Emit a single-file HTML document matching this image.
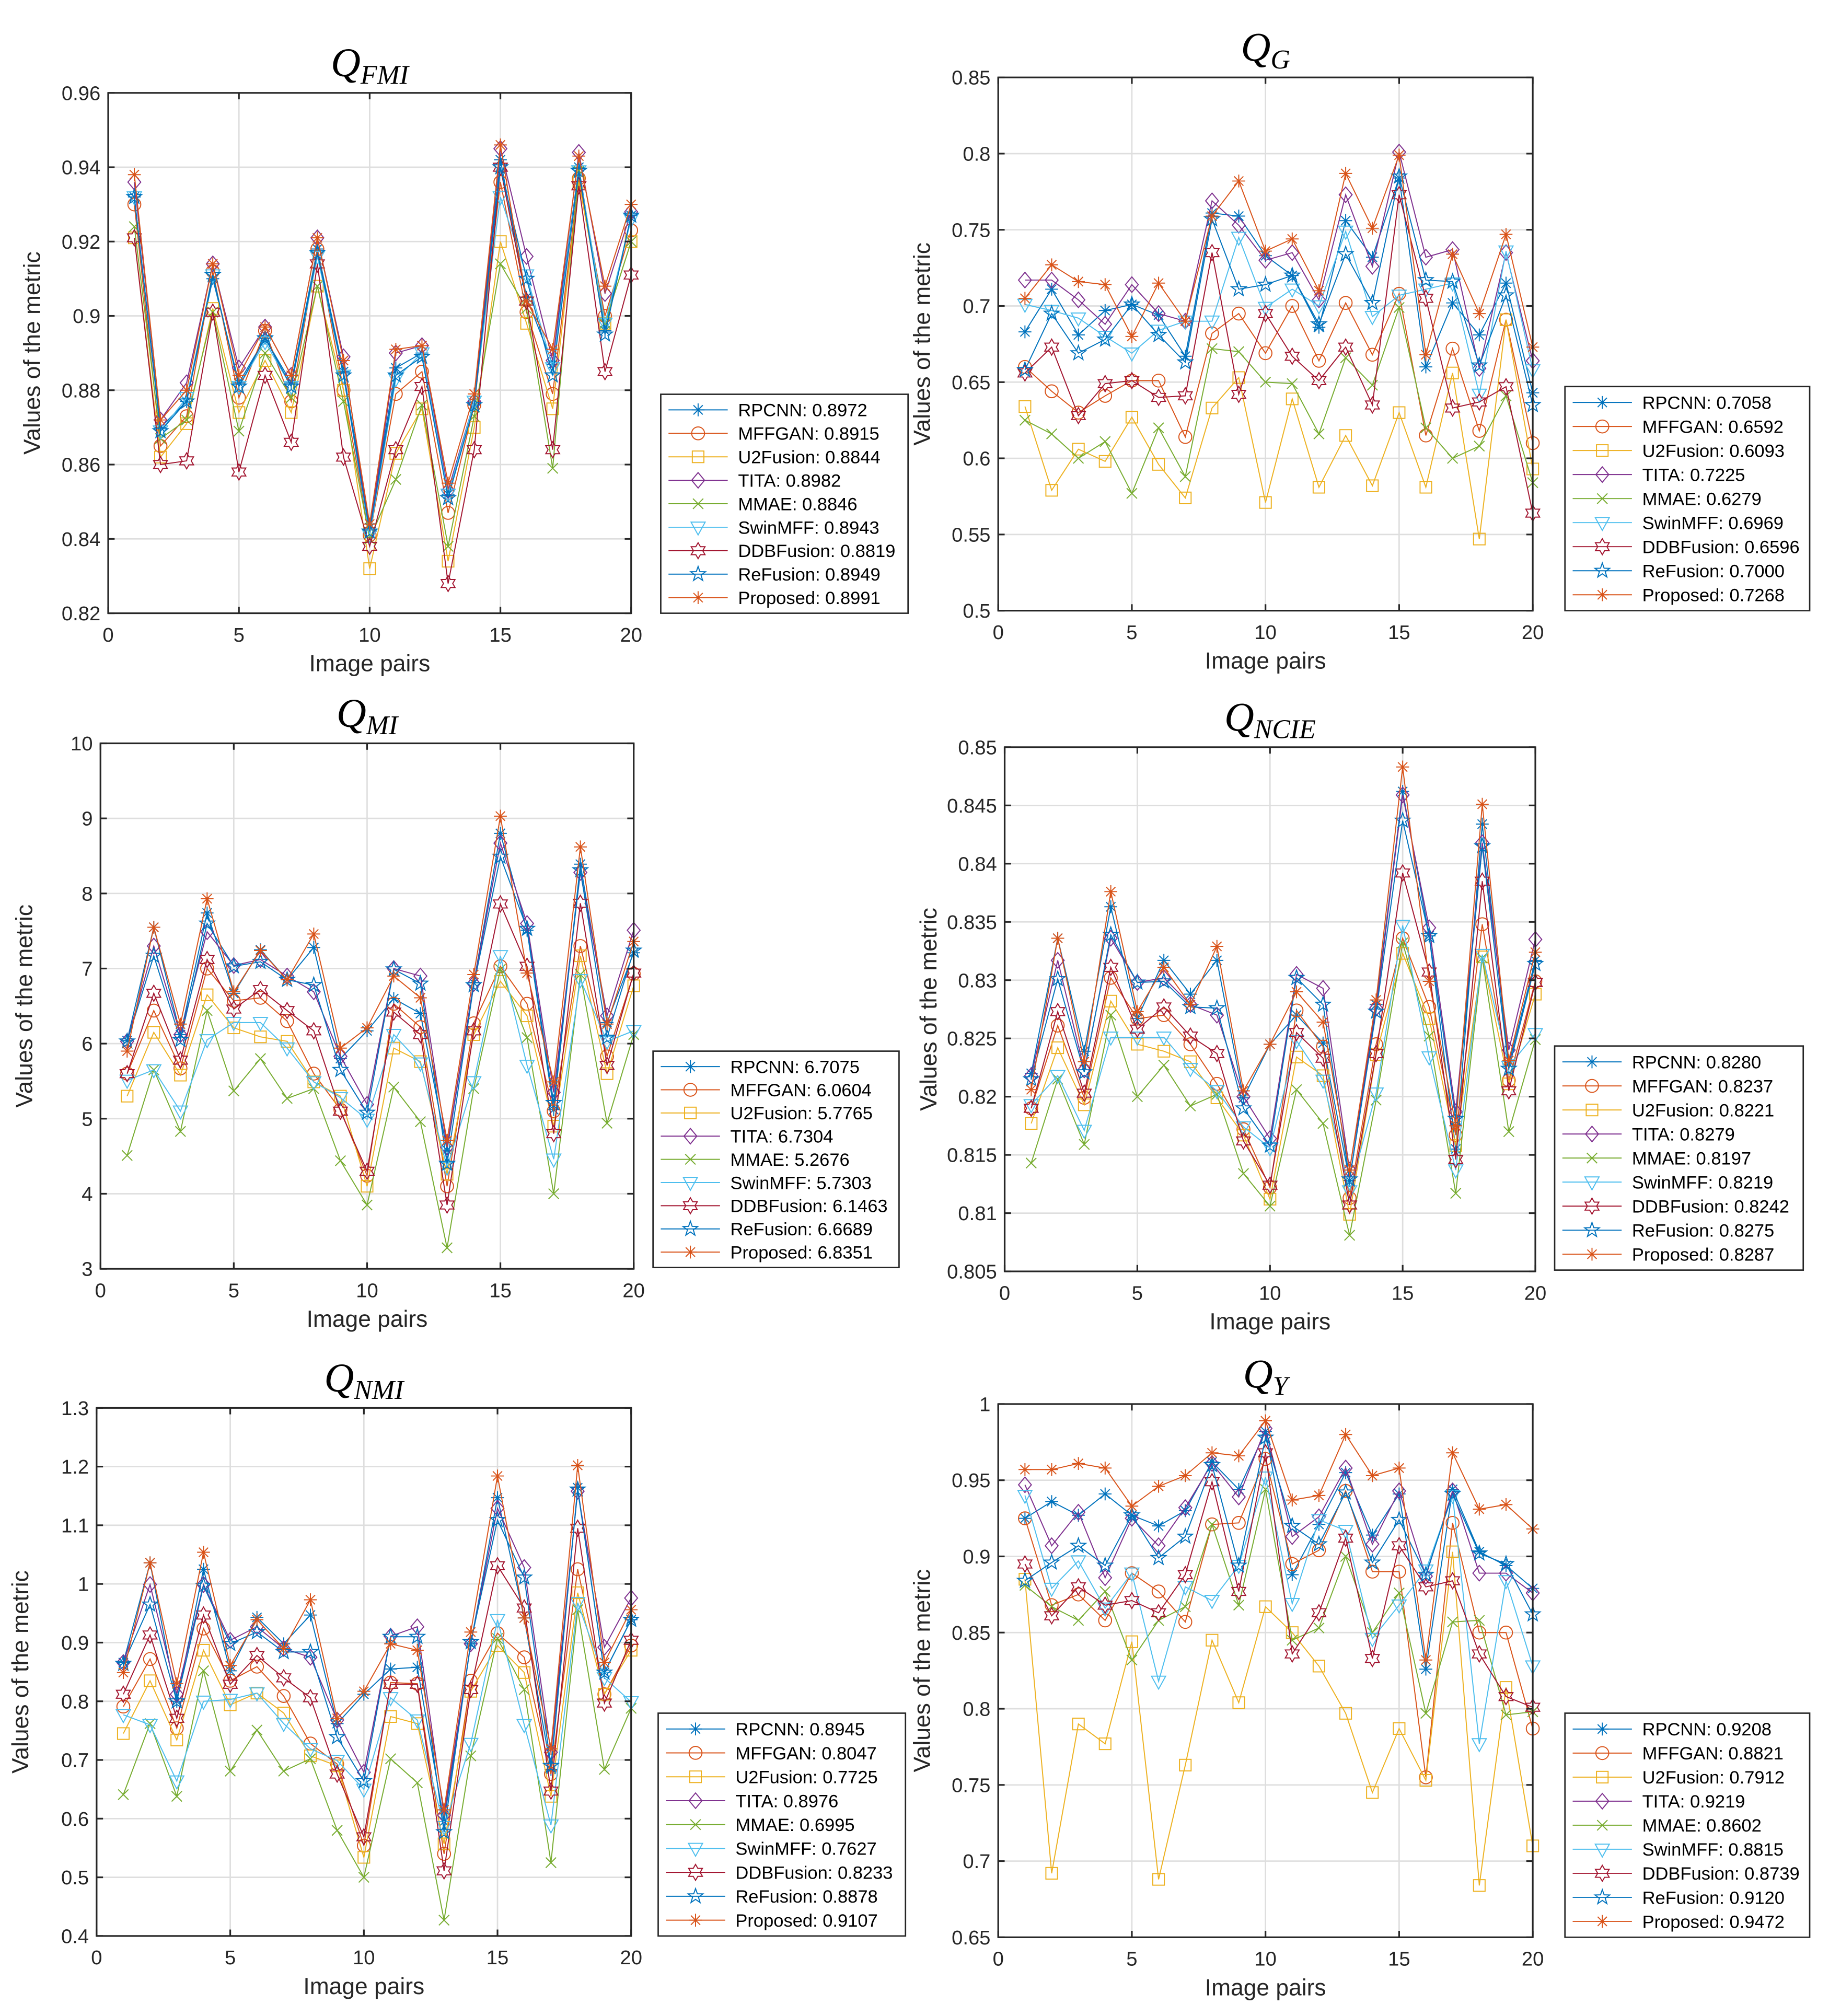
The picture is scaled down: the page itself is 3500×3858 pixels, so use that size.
<!DOCTYPE html>
<html><head><meta charset="utf-8"><style>
html,body{margin:0;padding:0;background:#fff;}
svg{display:block;}
</style></head><body>
<svg id="fig" xmlns="http://www.w3.org/2000/svg" width="3500" height="3858" viewBox="0 0 1420 1565" font-family="Liberation Sans, sans-serif"></svg>
<script>
// ---------- data ----------
const methods = ["RPCNN","MFFGAN","U2Fusion","TITA","MMAE","SwinMFF","DDBFusion","ReFusion","Proposed"];
const pairs = [1,2,3,4,5,6,7,8,9,10,11,12,13,14,15,16,17,18,19,20];

const fmi_RPCNN    = [0.932,0.870,0.877,0.910,0.882,0.894,0.882,0.918,0.885,0.843,0.886,0.890,0.852,0.876,0.942,0.905,0.887,0.940,0.896,0.927];
const fmi_MFFGAN   = [0.930,0.865,0.873,0.912,0.878,0.896,0.877,0.918,0.880,0.841,0.879,0.885,0.847,0.876,0.936,0.901,0.879,0.937,0.900,0.923];
const fmi_U2Fusion = [0.921,0.862,0.871,0.902,0.874,0.888,0.874,0.908,0.880,0.832,0.863,0.875,0.834,0.870,0.920,0.898,0.875,0.936,0.898,0.920];
const fmi_TITA     = [0.936,0.872,0.882,0.914,0.886,0.897,0.884,0.921,0.889,0.842,0.890,0.892,0.853,0.877,0.945,0.916,0.888,0.944,0.906,0.928];
const fmi_MMAE     = [0.924,0.867,0.872,0.901,0.869,0.890,0.878,0.908,0.877,0.840,0.856,0.876,0.838,0.873,0.914,0.902,0.859,0.939,0.898,0.920];
const fmi_SwinMFF  = [0.932,0.869,0.878,0.911,0.881,0.893,0.881,0.916,0.884,0.841,0.883,0.890,0.852,0.877,0.932,0.911,0.886,0.939,0.898,0.926];
const fmi_DDBFusion= [0.921,0.860,0.861,0.901,0.858,0.884,0.866,0.914,0.862,0.838,0.864,0.881,0.828,0.864,0.940,0.904,0.864,0.935,0.885,0.911];
const fmi_ReFusion = [0.932,0.869,0.877,0.911,0.881,0.894,0.881,0.917,0.884,0.842,0.884,0.889,0.851,0.876,0.940,0.910,0.884,0.939,0.895,0.927];
const fmi_Proposed = [0.938,0.872,0.880,0.914,0.884,0.897,0.884,0.921,0.888,0.844,0.891,0.892,0.855,0.879,0.946,0.904,0.891,0.943,0.908,0.930];
const fmi_legend = ["0.8972","0.8915","0.8844","0.8982","0.8846","0.8943","0.8819","0.8949","0.8991"];

const g_RPCNN    = [0.683,0.711,0.681,0.697,0.701,0.694,0.667,0.761,0.759,0.733,0.720,0.686,0.756,0.732,0.784,0.660,0.702,0.681,0.715,0.643];
const g_MFFGAN   = [0.660,0.644,0.630,0.641,0.651,0.651,0.614,0.682,0.695,0.669,0.700,0.664,0.702,0.668,0.708,0.615,0.672,0.618,0.691,0.610];
const g_U2Fusion = [0.634,0.579,0.606,0.598,0.627,0.596,0.574,0.633,0.653,0.571,0.639,0.581,0.615,0.582,0.630,0.581,0.656,0.547,0.691,0.593];
const g_TITA     = [0.717,0.717,0.704,0.688,0.714,0.695,0.690,0.769,0.753,0.730,0.735,0.704,0.773,0.726,0.801,0.732,0.737,0.659,0.735,0.664];
const g_MMAE     = [0.625,0.616,0.600,0.611,0.577,0.620,0.588,0.672,0.670,0.650,0.649,0.616,0.666,0.648,0.699,0.620,0.600,0.608,0.641,0.584];
const g_SwinMFF  = [0.701,0.697,0.692,0.680,0.669,0.684,0.690,0.690,0.745,0.699,0.711,0.700,0.749,0.693,0.707,0.711,0.715,0.642,0.736,0.658];
const g_DDBFusion= [0.656,0.673,0.628,0.649,0.651,0.640,0.641,0.735,0.642,0.695,0.667,0.651,0.673,0.635,0.773,0.705,0.633,0.637,0.647,0.564];
const g_ReFusion = [0.658,0.695,0.669,0.678,0.701,0.681,0.663,0.757,0.711,0.714,0.720,0.688,0.734,0.702,0.785,0.717,0.716,0.661,0.707,0.635];
const g_Proposed = [0.705,0.727,0.716,0.714,0.680,0.715,0.690,0.759,0.782,0.736,0.744,0.710,0.787,0.751,0.799,0.668,0.734,0.695,0.747,0.673];
const g_legend = ["0.7058","0.6592","0.6093","0.7225","0.6279","0.6969","0.6596","0.7000","0.7268"];

const mi_RPCNN    = [6.04,7.55,6.12,7.74,6.67,7.25,6.85,7.28,5.80,6.17,6.60,6.40,4.58,6.81,8.80,7.51,5.12,8.39,6.28,7.21];
const mi_MFFGAN   = [5.60,6.44,5.67,7.00,6.57,6.61,6.30,5.60,5.12,4.24,6.53,6.22,4.10,6.27,7.03,6.53,5.10,7.30,5.83,6.93];
const mi_U2Fusion = [5.30,6.15,5.58,6.65,6.21,6.09,6.03,5.49,5.30,4.10,5.94,5.76,4.26,6.12,6.83,6.37,4.90,7.17,5.60,6.77];
const mi_TITA     = [6.03,7.30,6.12,7.49,7.04,7.12,6.90,6.69,5.83,5.19,7.00,6.90,4.62,6.80,8.67,7.60,5.35,8.28,6.37,7.51];
const mi_MMAE     = [4.51,5.65,4.83,6.44,5.37,5.80,5.27,5.40,4.44,3.85,5.42,4.96,3.28,5.40,6.99,6.08,4.00,6.92,4.94,6.12];
const mi_SwinMFF  = [5.51,5.65,5.10,6.05,6.28,6.28,5.94,5.49,5.28,4.99,6.12,5.74,4.35,5.49,7.17,5.71,4.46,6.85,6.03,6.17];
const mi_DDBFusion= [5.60,6.67,5.78,7.12,6.46,6.72,6.44,6.17,5.10,4.30,6.42,6.12,3.85,6.17,7.86,7.03,4.80,7.87,5.71,6.94];
const mi_ReFusion = [6.03,7.17,6.05,7.60,7.03,7.09,6.85,6.78,5.65,5.08,6.99,6.80,4.40,6.78,8.49,7.53,5.21,8.31,6.08,7.24];
const mi_Proposed = [5.90,7.55,6.26,7.93,6.69,7.24,6.85,7.46,5.94,6.21,6.90,6.61,4.71,6.92,9.03,6.94,5.49,8.62,6.26,7.36];
const mi_legend = ["6.7075","6.0604","5.7765","6.7304","5.2676","5.7303","6.1463","6.6689","6.8351"];

const ncie_RPCNN    = [0.8220,0.8336,0.8239,0.8363,0.8267,0.8317,0.8288,0.8317,0.8199,0.8245,0.8270,0.8246,0.8128,0.8279,0.8462,0.8338,0.8155,0.8434,0.8228,0.8317];
const ncie_MFFGAN   = [0.8190,0.8261,0.8199,0.8302,0.8267,0.8270,0.8245,0.8211,0.8172,0.8122,0.8274,0.8243,0.8113,0.8245,0.8336,0.8277,0.8167,0.8348,0.8214,0.8299];
const ncie_U2Fusion = [0.8177,0.8242,0.8193,0.8282,0.8245,0.8239,0.8230,0.8199,0.8167,0.8112,0.8234,0.8218,0.8099,0.8236,0.8323,0.8267,0.8158,0.8320,0.8211,0.8288];
const ncie_TITA     = [0.8218,0.8317,0.8223,0.8336,0.8298,0.8302,0.8279,0.8270,0.8200,0.8164,0.8305,0.8293,0.8137,0.8276,0.8459,0.8345,0.8187,0.8418,0.8240,0.8335];
const ncie_MMAE     = [0.8143,0.8215,0.8159,0.8270,0.8200,0.8227,0.8192,0.8202,0.8134,0.8106,0.8206,0.8177,0.8081,0.8197,0.8332,0.8252,0.8117,0.8319,0.8170,0.8249];
const ncie_SwinMFF  = [0.8193,0.8218,0.8171,0.8251,0.8251,0.8251,0.8224,0.8205,0.8174,0.8156,0.8248,0.8214,0.8119,0.8203,0.8347,0.8234,0.8137,0.8322,0.8226,0.8254];
const ncie_DDBFusion= [0.8190,0.8273,0.8203,0.8311,0.8258,0.8277,0.8252,0.8237,0.8162,0.8124,0.8255,0.8233,0.8107,0.8237,0.8392,0.8307,0.8146,0.8385,0.8205,0.8298];
const ncie_ReFusion = [0.8215,0.8301,0.8221,0.8339,0.8298,0.8299,0.8277,0.8276,0.8190,0.8158,0.8302,0.8279,0.8129,0.8273,0.8437,0.8338,0.8181,0.8415,0.8224,0.8314];
const ncie_Proposed = [0.8206,0.8336,0.8230,0.8376,0.8273,0.8311,0.8279,0.8329,0.8205,0.8245,0.8290,0.8264,0.8137,0.8283,0.8483,0.8299,0.8175,0.8451,0.8231,0.8324];
const ncie_legend = ["0.8280","0.8237","0.8221","0.8279","0.8197","0.8219","0.8242","0.8275","0.8287"];

const nmi_RPCNN    = [0.866,1.036,0.800,1.025,0.852,0.943,0.898,0.947,0.762,0.812,0.855,0.858,0.595,0.898,1.147,0.942,0.684,1.164,0.849,0.939];
const nmi_MFFGAN   = [0.791,0.872,0.754,0.924,0.835,0.859,0.809,0.728,0.693,0.554,0.832,0.830,0.540,0.835,0.916,0.875,0.676,1.025,0.812,0.895];
const nmi_U2Fusion = [0.745,0.835,0.734,0.887,0.794,0.814,0.780,0.707,0.690,0.534,0.774,0.762,0.557,0.817,0.895,0.849,0.638,0.985,0.812,0.887];
const nmi_TITA     = [0.866,0.999,0.812,0.999,0.904,0.927,0.890,0.875,0.768,0.679,0.911,0.927,0.606,0.898,1.129,1.028,0.713,1.158,0.892,0.976];
const nmi_MMAE     = [0.641,0.762,0.638,0.852,0.681,0.751,0.681,0.702,0.580,0.500,0.702,0.661,0.427,0.707,0.907,0.820,0.525,0.956,0.684,0.788];
const nmi_SwinMFF  = [0.777,0.760,0.664,0.800,0.803,0.814,0.762,0.719,0.699,0.650,0.806,0.768,0.586,0.728,0.939,0.760,0.589,0.968,0.840,0.799];
const nmi_DDBFusion= [0.812,0.913,0.771,0.947,0.829,0.878,0.840,0.806,0.676,0.569,0.829,0.829,0.511,0.820,1.031,0.959,0.647,1.095,0.797,0.904];
const nmi_ReFusion = [0.864,0.965,0.800,0.997,0.898,0.918,0.884,0.884,0.739,0.664,0.910,0.910,0.577,0.901,1.109,1.011,0.690,1.161,0.849,0.939];
const nmi_Proposed = [0.849,1.036,0.830,1.054,0.861,0.939,0.890,0.973,0.771,0.817,0.898,0.887,0.615,0.918,1.184,0.942,0.719,1.202,0.866,0.956];
const nmi_legend = ["0.8945","0.8047","0.7725","0.8976","0.6995","0.7627","0.8233","0.8878","0.9107"];

const y_RPCNN    = [0.925,0.936,0.927,0.941,0.927,0.920,0.930,0.962,0.944,0.982,0.888,0.921,0.955,0.914,0.941,0.826,0.944,0.903,0.894,0.879];
const y_MFFGAN   = [0.925,0.868,0.875,0.858,0.889,0.877,0.857,0.921,0.922,0.964,0.895,0.904,0.943,0.890,0.890,0.755,0.922,0.850,0.850,0.787];
const y_U2Fusion = [0.885,0.692,0.790,0.777,0.844,0.688,0.763,0.845,0.804,0.867,0.850,0.828,0.797,0.745,0.787,0.753,0.903,0.684,0.814,0.710];
const y_TITA     = [0.947,0.907,0.929,0.886,0.925,0.907,0.932,0.961,0.939,0.984,0.913,0.926,0.958,0.908,0.943,0.887,0.943,0.889,0.889,0.876];
const y_MMAE     = [0.881,0.867,0.858,0.877,0.832,0.858,0.867,0.921,0.868,0.944,0.845,0.853,0.900,0.850,0.876,0.797,0.857,0.858,0.796,0.798];
const y_SwinMFF  = [0.940,0.879,0.897,0.866,0.889,0.818,0.880,0.871,0.894,0.952,0.869,0.924,0.917,0.846,0.868,0.891,0.940,0.777,0.884,0.828];
const y_DDBFusion= [0.895,0.861,0.880,0.868,0.871,0.863,0.888,0.949,0.877,0.968,0.836,0.863,0.912,0.833,0.907,0.880,0.884,0.836,0.808,0.801];
const y_ReFusion = [0.884,0.896,0.907,0.894,0.927,0.899,0.913,0.960,0.894,0.978,0.920,0.908,0.942,0.896,0.924,0.888,0.941,0.902,0.895,0.862];
const y_Proposed = [0.957,0.957,0.961,0.958,0.933,0.946,0.953,0.968,0.966,0.989,0.937,0.940,0.980,0.953,0.958,0.832,0.968,0.931,0.934,0.918];
const y_legend = ["0.9208","0.8821","0.7912","0.9219","0.8602","0.8815","0.8739","0.9120","0.9472"];

// ---------- styles ----------
const colors = ["#0072BD","#D95319","#EDB120","#7E2F8E","#77AC30","#4DBEEE","#A2142F","#0072BD","#D95319"];
const markers = ["star","circle","square","diamond","cross","tri","hex","penta","star"];

const panels = [
  {key:"fmi", sub:"FMI", series:[fmi_RPCNN,fmi_MFFGAN,fmi_U2Fusion,fmi_TITA,fmi_MMAE,fmi_SwinMFF,fmi_DDBFusion,fmi_ReFusion,fmi_Proposed], leg:fmi_legend, box:[84,72,490,476], yr:[0.82,0.96,0.02], lg:[513,306,705,476]},
  {key:"g", sub:"G", series:[g_RPCNN,g_MFFGAN,g_U2Fusion,g_TITA,g_MMAE,g_SwinMFF,g_DDBFusion,g_ReFusion,g_Proposed], leg:g_legend, box:[775,60,1190,474], yr:[0.5,0.85,0.05], lg:[1215,300,1405,474]},
  {key:"mi", sub:"MI", series:[mi_RPCNN,mi_MFFGAN,mi_U2Fusion,mi_TITA,mi_MMAE,mi_SwinMFF,mi_DDBFusion,mi_ReFusion,mi_Proposed], leg:mi_legend, box:[78,577,492,985], yr:[3,10,1], lg:[507,816,698,984]},
  {key:"ncie", sub:"NCIE", series:[ncie_RPCNN,ncie_MFFGAN,ncie_U2Fusion,ncie_TITA,ncie_MMAE,ncie_SwinMFF,ncie_DDBFusion,ncie_ReFusion,ncie_Proposed], leg:ncie_legend, box:[780,580,1192,987], yr:[0.805,0.85,0.005], lg:[1207,812,1400,986]},
  {key:"nmi", sub:"NMI", series:[nmi_RPCNN,nmi_MFFGAN,nmi_U2Fusion,nmi_TITA,nmi_MMAE,nmi_SwinMFF,nmi_DDBFusion,nmi_ReFusion,nmi_Proposed], leg:nmi_legend, box:[75,1093,490,1503], yr:[0.4,1.3,0.1], lg:[511,1330,703,1503]},
  {key:"y", sub:"Y", series:[y_RPCNN,y_MFFGAN,y_U2Fusion,y_TITA,y_MMAE,y_SwinMFF,y_DDBFusion,y_ReFusion,y_Proposed], leg:y_legend, box:[775,1090,1190,1504], yr:[0.65,1,0.05], lg:[1215,1330,1405,1504]}
];

const NS = "http://www.w3.org/2000/svg";
const fig = document.getElementById("fig");
function mk(tag, attrs, parent){
  const e = document.createElementNS(NS, tag);
  for (const k in attrs) e.setAttribute(k, attrs[k]);
  (parent||fig).appendChild(e);
  return e;
}
function markerShape(type, cx, cy, color, parent){
  const g = mk("g", {stroke:color, fill:"none", "stroke-width":0.8}, parent);
  const r = 5;
  if (type==="star"){
    mk("path",{d:`M${cx-r},${cy}H${cx+r}M${cx},${cy-r}V${cy+r}M${cx-3.6},${cy-3.6}L${cx+3.6},${cy+3.6}M${cx-3.6},${cy+3.6}L${cx+3.6},${cy-3.6}`},g);
  } else if (type==="circle"){
    mk("circle",{cx:cx,cy:cy,r:5},g);
  } else if (type==="square"){
    mk("rect",{x:cx-4.5,y:cy-4.5,width:9,height:9},g);
  } else if (type==="diamond"){
    mk("path",{d:`M${cx},${cy-6}L${cx+5},${cy}L${cx},${cy+6}L${cx-5},${cy}Z`},g);
  } else if (type==="cross"){
    mk("path",{d:`M${cx-4},${cy-4}L${cx+4},${cy+4}M${cx-4},${cy+4}L${cx+4},${cy-4}`},g);
  } else if (type==="tri"){
    mk("path",{d:`M${cx-5.5},${cy-4}L${cx+5.5},${cy-4}L${cx},${cy+6}Z`},g);
  } else if (type==="hex"){
    const R=6.2, pts1=[], pts2=[];
    for(let i=0;i<3;i++){const a=-Math.PI/2+i*2*Math.PI/3; pts1.push((cx+R*Math.cos(a)).toFixed(2)+","+(cy+R*Math.sin(a)).toFixed(2));}
    for(let i=0;i<3;i++){const a=Math.PI/2+i*2*Math.PI/3; pts2.push((cx+R*Math.cos(a)).toFixed(2)+","+(cy+R*Math.sin(a)).toFixed(2));}
    const p=[];
    for(let i=0;i<12;i++){const a=-Math.PI/2+i*Math.PI/6; const rr=(i%2===0)?R:R*0.577; p.push((cx+rr*Math.cos(a)).toFixed(2)+","+(cy+rr*Math.sin(a)).toFixed(2));}
    mk("polygon",{points:p.join(" ")},g);
  } else if (type==="penta"){
    const R=6, p=[];
    for(let i=0;i<10;i++){const a=-Math.PI/2+i*Math.PI/5; const rr=(i%2===0)?R:R*0.4; p.push((cx+rr*Math.cos(a)).toFixed(2)+","+(cy+rr*Math.sin(a)).toFixed(2));}
    mk("polygon",{points:p.join(" ")},g);
  }
  return g;
}
function fmt(v){ return String(parseFloat(v.toFixed(4))); }

panels.forEach(p=>{
  const [L,T,R,B] = p.box;
  const [y0,y1,ys] = p.yr;
  const xs = v => L + (v-0)/(20-0)*(R-L);
  const ysc = v => B - (v-y0)/(y1-y0)*(B-T);
  const pg = mk("g",{});
  
  
  mk("rect",{x:L,y:T,width:R-L,height:B-T,fill:"#fff"},pg);
  // grid
  const grid = mk("g",{stroke:"#dedede","stroke-width":1.1},pg);
  
  
  const xticks=[0,5,10,15,20];
  xticks.forEach(t=>{ if(t>0&&t<20) mk("line",{x1:xs(t),x2:xs(t),y1:T,y2:B},grid); });
  const nT = Math.round((y1-y0)/ys);
  const yticks=[]; for(let i=0;i<=nT;i++) yticks.push(y0+i*ys);
  yticks.forEach((t,i)=>{ if(i>0&&i<nT) mk("line",{x1:L,x2:R,y1:ysc(t),y2:ysc(t)},grid); });
  // series
  p.series.forEach((vals,si)=>{
    const sg = mk("g",{},pg);
    
    
    const d = vals.map((v,i)=>(i?"L":"M")+xs(pairs[i]).toFixed(2)+","+ysc(v).toFixed(2)).join("");
    mk("path",{d:d,fill:"none",stroke:colors[si],"stroke-width":0.8},sg);
    vals.forEach((v,i)=>{
      const m = markerShape(markers[si], xs(pairs[i]), ysc(v), colors[si], sg);
      
      
    });
  });
  // axes box and ticks
  const ax = mk("g",{stroke:"#262626","stroke-width":1.3,fill:"none"},pg);
  
  
  mk("rect",{x:L,y:T,width:R-L,height:B-T},ax);
  xticks.forEach(t=>{ mk("line",{x1:xs(t),x2:xs(t),y1:B,y2:B-5},ax); mk("line",{x1:xs(t),x2:xs(t),y1:T,y2:T+5},ax); });
  yticks.forEach(t=>{ mk("line",{x1:L,x2:L+5,y1:ysc(t),y2:ysc(t)},ax); mk("line",{x1:R,x2:R-5,y1:ysc(t),y2:ysc(t)},ax); });
  // tick labels
  xticks.forEach(t=>{
    const tx = mk("text",{x:xs(t),y:B+22,"text-anchor":"middle","font-size":15.5,fill:"#262626"},pg);
    tx.textContent = String(t);
    
    
  });
  yticks.forEach(t=>{
    const tx = mk("text",{x:L-6,y:ysc(t)+5.5,"text-anchor":"end","font-size":15.5,fill:"#262626"},pg);
    tx.textContent = fmt(t);
    
    
  });
  // axis titles
  const xl = mk("text",{x:(L+R)/2,y:B+45,"text-anchor":"middle","font-size":18,fill:"#262626"},pg);
  xl.textContent = "Image pairs";
  
  
  const yl = mk("text",{x:0,y:0,"text-anchor":"middle","font-size":18,fill:"#262626",transform:`translate(${L-53},${(T+B)/2}) rotate(-90)`},pg);
  yl.textContent = "Values of the metric";
  
  
  // title
  const tt = mk("text",{x:(L+R)/2,y:T-13,"text-anchor":"middle","font-family":"Liberation Serif, serif","font-style":"italic","font-size":32,fill:"#000"},pg);
  
  
  const q = mk("tspan",{},tt); q.textContent="Q";
  const s = mk("tspan",{"font-size":21,dy:6},tt); s.textContent=p.sub;
  // legend
  const [lx0,ly0,lx1,ly1] = p.lg;
  const lgG = mk("g",{},pg);
  
  
  mk("rect",{x:lx0,y:ly0,width:lx1-lx0,height:ly1-ly0,fill:"#fff",stroke:"#262626","stroke-width":1.1},lgG);
  const rh = (ly1-ly0-6)/9;
  methods.forEach((m,i)=>{
    const cy = ly0+3+rh*(i+0.5);
    const eg = mk("g",{},lgG);
    
    
    mk("line",{x1:lx0+6,x2:lx0+52,y1:cy,y2:cy,stroke:colors[i],"stroke-width":0.8},eg);
    markerShape(markers[i], lx0+29, cy, colors[i], eg);
    const t = mk("text",{x:lx0+60,y:cy+5,"font-size":14,fill:"#000"},eg);
    t.textContent = m + ": " + p.leg[i];
  });
});
</script>
</body></html>
